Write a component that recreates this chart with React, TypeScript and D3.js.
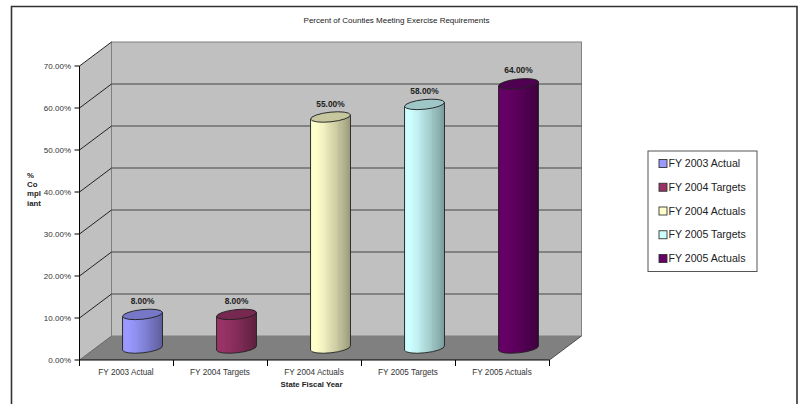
import React from "react";
import * as d3 from "d3";

const categories = ["FY 2003 Actual", "FY 2004 Targets", "FY 2004 Actuals", "FY 2005 Targets", "FY 2005 Actuals"];
const labelValues = [8, 8, 55, 58, 64];
const plottedValues = [8, 8, 55, 58, 62.9];
const colors = ["#9999ff", "#993366", "#ffffcc", "#ccffff", "#660066"];
const yTicks = [0, 10, 20, 30, 40, 50, 60, 70];
const yTitleLines = ["%", "Co", "mpl", "iant"];
const title = "Percent of Counties Meeting Exercise Requirements";
const xTitle = "State Fiscal Year";

const W = 798, H = 404;
const font = "'Liberation Sans', Arial, sans-serif";
const x0 = 79.5, x1 = 549.5, y0 = 360, yTop = 66;
const depthX = 32, depthY = -24;
const y = d3.scaleLinear().domain([0, 70]).range([y0, yTop]);
const x = d3.scaleBand<string>().domain(categories).range([x0, x1]);
const fmt = (v: number) => v.toFixed(2) + "%";

const stops: [number, number][] = [
  [0, 0.9], [0.04, 1], [0.14, 1], [0.3, 0.95], [0.3, 0.9], [0.32, 0.95], [0.5, 0.86], [0.66, 0.8], [0.66, 0.86], [0.68, 0.76],
  [0.8, 0.72], [0.8, 0.8], [0.82, 0.7], [0.88, 0.68], [0.88, 0.76], [0.9, 0.66], [1, 0.6],
];
const shade = (c: string, k: number) => {
  const r = d3.rgb(c);
  return d3.rgb(r.r * k, r.g * k, r.b * k).formatHex();
};

export default function App() {
  const rx = 20, ry = 4.8, tilt = -6;
  const midDx = depthX / 2, midDy = depthY / 2;
  return (
    <svg width={W} height={H} viewBox={`0 0 ${W} ${H}`} style={{ position: "fixed", left: 0, top: 0, background: "#fff" }} fontFamily={font}>
      <defs>
        {colors.map((c, i) => (
          <linearGradient key={c} id={`g${i}`} x1="0" x2="1" y1="0" y2="0">
            {stops.map(([o, k], j) => <stop key={j} offset={o} stopColor={shade(c, k)} />)}
          </linearGradient>
        ))}
      </defs>
      <path d={`M11.5,${H + 2}V6.5H797V${H + 2}`} fill="none" stroke="#333" strokeWidth={1.6} />
      <text x={396.5} y={23} textAnchor="middle" fontSize={8} fill="#222">{title}</text>

      {/* walls */}
      <polygon points={`${x0},${y0} ${x0 + depthX},${y0 + depthY} ${x0 + depthX},${yTop + depthY} ${x0},${yTop}`} fill="#c0c0c0" />
      <rect x={x0 + depthX} y={yTop + depthY} width={x1 - x0} height={y0 - yTop} fill="#c0c0c0" stroke="#808080" strokeWidth={1} />
      <polygon points={`${x0},${y0} ${x1},${y0} ${x1 + depthX},${y0 + depthY} ${x0 + depthX},${y0 + depthY}`} fill="#808080" />
      <line x1={x1} y1={y0} x2={x1 + depthX} y2={y0 + depthY} stroke="#333" strokeWidth={0.8} />

      {yTicks.map(t => (
        <g key={t}>
          {t > 0 && <line x1={x0} y1={y(t)} x2={x0 + depthX} y2={y(t) + depthY} stroke="#111" strokeWidth={0.9} />}
          {t > 0 && t < 70 && <line x1={x0 + depthX} y1={y(t) + depthY} x2={x1 + depthX} y2={y(t) + depthY} stroke="#444" strokeWidth={1} />}
          {t === 0 && <line x1={x0} y1={y(t)} x2={x0 + depthX} y2={y(t) + depthY} stroke="#555" strokeWidth={0.8} />}
          <line x1={x0 - 5} y1={y(t)} x2={x0} y2={y(t)} stroke="#000" strokeWidth={1} />
          <text x={71} y={y(t) + 2.8} textAnchor="end" fontSize={8} fill="#333">{fmt(t)}</text>
        </g>
      ))}

      {/* axes */}
      <line x1={x0} y1={yTop} x2={x0} y2={y0} stroke="#000" strokeWidth={1} />
      <line x1={x0} y1={y0} x2={x1} y2={y0} stroke="#000" strokeWidth={1.2} />
      {categories.map(c => (
        <line key={c} x1={x(c)!} y1={y0} x2={x(c)!} y2={y0 + 6} stroke="#000" strokeWidth={1} />
      ))}
      <line x1={x1} y1={y0} x2={x1} y2={y0 + 6} stroke="#000" strokeWidth={1} />

      {/* cylinders */}
      {categories.map((c, i) => {
        const cx = x(c)! + x.bandwidth() / 2 + midDx;
        const base = y(0) + midDy;
        const top = y(plottedValues[i]) + midDy;
        const sin = Math.sin(tilt * Math.PI / 180) * rx;
        const body = `M${cx - rx},${top - sin} L${cx - rx},${base - sin} A${rx},${ry} ${tilt} 0 0 ${cx + rx},${base + sin} L${cx + rx},${top + sin} Z`;
        return (
          <g key={c}>
            <path d={body} fill={`url(#g${i})`} stroke="#222" strokeWidth={0.9} />
            <ellipse cx={cx} cy={top} rx={rx} ry={ry} transform={`rotate(${tilt} ${cx} ${top})`} fill={shade(colors[i], 0.78)} stroke="#222" strokeWidth={0.9} />
            <text x={cx} y={top - 10.5} textAnchor="middle" fontSize={8.4} fontWeight="bold" fill="#222">{fmt(labelValues[i])}</text>
            <text x={x(c)! + x.bandwidth() / 2 - 0.5} y={374.5} textAnchor="middle" fontSize={8.2} fill="#333">{c}</text>
          </g>
        );
      })}

      <text x={311.5} y={387} textAnchor="middle" fontSize={7.8} fontWeight="bold" fill="#222">{xTitle}</text>
      {yTitleLines.map((l, i) => (
        <text key={l} x={27} y={178 + i * 9.2} fontSize={7.8} fontWeight="bold" fill="#222">{l}</text>
      ))}

      {/* legend */}
      <rect x={648} y={151} width={109} height={120.5} fill="#fff" stroke="#555" strokeWidth={1} />
      {categories.map((c, i) => {
        const ly = d3.scaleLinear().domain([0, 4]).range([163.5, 258.5])(i);
        return (
          <g key={c}>
            <rect x={659} y={ly - 4} width={8} height={8} fill={colors[i]} stroke="#333" strokeWidth={0.9} />
            <text x={668.5} y={ly + 3.7} fontSize={10.6} fill="#222">{c}</text>
          </g>
        );
      })}
    </svg>
  );
}
